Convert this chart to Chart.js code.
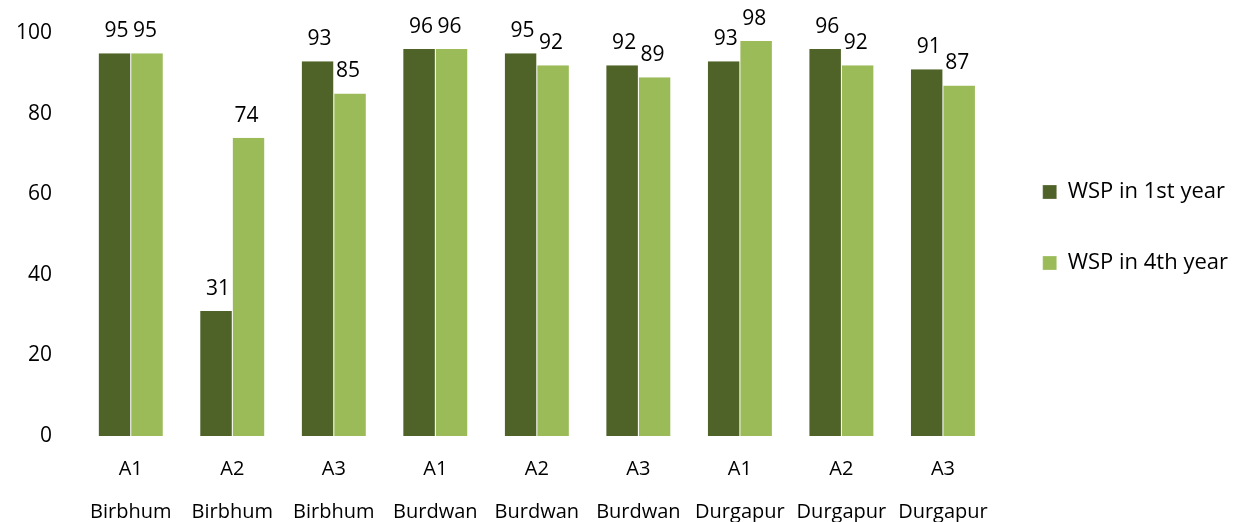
<!DOCTYPE html>
<html>
<head>
<meta charset="utf-8">
<script src="https://cdn.jsdelivr.net/npm/chart.js@4"></script>
<style>
  html, body { margin: 0; padding: 0; background: #fff; }
  #wrap { width: 1238px; height: 522px; }
</style>
</head>
<body>
<div id="wrap"><canvas id="grafico"></canvas></div>
<script>
const sites = ["A1", "A2", "A3", "A1", "A2", "A3", "A1", "A2", "A3"];
const districts = ["Birbhum", "Birbhum", "Birbhum", "Burdwan", "Burdwan", "Burdwan", "Durgapur", "Durgapur", "Durgapur"];
const wspYear1 = [95, 31, 93, 96, 95, 92, 93, 96, 91];
const wspYear4 = [95, 74, 85, 96, 92, 89, 98, 92, 87];
const yTicks = [0, 20, 40, 60, 80, 100];

const fonte = "'Open Sans', 'Noto Sans', sans-serif";

// valores em cima de cada barra
const rotulosBarras = {
  id: "rotulosBarras",
  afterDatasetsDraw(chart) {
    const ctx = chart.ctx;
    ctx.save();
    ctx.font = "21px " + fonte;
    ctx.fillStyle = "#000";
    ctx.textBaseline = "middle";
    ctx.textAlign = "center";
    chart.data.datasets.forEach((ds, i) => {
      chart.getDatasetMeta(i).data.forEach((bar, j) => {
        const dx = i === 0 ? 2 : -2;
        ctx.fillText(String(ds.data[j]), bar.x + dx, bar.y - 22);
      });
    });
    ctx.restore();
  }
};

new Chart(document.getElementById("grafico"), {
  type: "bar",
  data: {
    labels: sites.map((s, i) => [s, districts[i]]),
    datasets: [
      {
        label: "WSP in 1st year",
        data: wspYear1,
        backgroundColor: "#4F6228",
        borderColor: "#ffffff",
        borderWidth: { left: 0.5, right: 0.5 },
        categoryPercentage: 0.64,
        barPercentage: 1
      },
      {
        label: "WSP in 4th year",
        data: wspYear4,
        backgroundColor: "#9BBB59",
        borderColor: "#ffffff",
        borderWidth: { left: 0.5, right: 0.5 },
        categoryPercentage: 0.64,
        barPercentage: 1
      }
    ]
  },
  options: {
    responsive: true,
    maintainAspectRatio: false,
    animation: false,
    layout: { padding: { top: 33, left: 16, right: 0, bottom: -24 } },
    plugins: {
      legend: {
        position: "right",
        align: "start",
        title: { display: true, text: " ", font: { size: 10 }, padding: { top: 87, bottom: 0 } },
        labels: {
          font: { family: fonte, size: 22 },
          color: "#000",
          boxWidth: 14,
          boxHeight: 14,
          padding: 49
        }
      },
      tooltip: { enabled: false }
    },
    scales: {
      x: {
        grid: { display: false, drawTicks: false },
        border: { display: false },
        afterFit(axis) { axis.paddingLeft = 0; axis.paddingRight = 0; },
        ticks: {
          font: { family: fonte, size: 20, lineHeight: 2.15 },
          color: "#000",
          maxRotation: 0,
          autoSkip: false,
          padding: 12
        }
      },
      y: {
        min: 0,
        max: 100,
        afterBuildTicks(axis) { axis.ticks = yTicks.map(v => ({ value: v })); },
        afterFit(axis) { axis.width = 64; axis.paddingTop = 0; axis.paddingBottom = 0; },
        grid: { display: false, drawTicks: false },
        border: { display: false },
        ticks: {
          font: { family: fonte, size: 21 },
          color: "#000",
          padding: 28
        }
      }
    }
  },
  plugins: [rotulosBarras]
});
</script>
</body>
</html>
